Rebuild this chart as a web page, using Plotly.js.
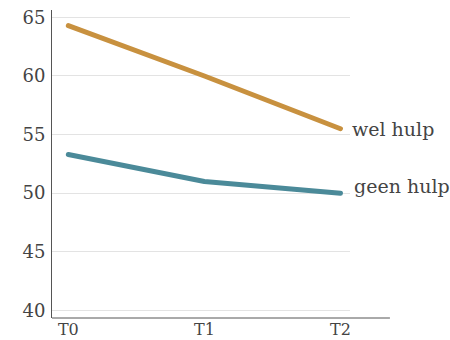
<!DOCTYPE html>
<html>
<head>
<meta charset="utf-8">
<script src="https://cdn.plot.ly/plotly-3.0.1.min.js"></script>
<style>html,body{margin:0;padding:0;background:#fff;}#chart{width:450px;height:340px;}
.js-line{stroke-linecap:round;stroke-linejoin:round;}</style>
</head>
<body>
<div id="chart"></div>
<script>
const categories = ["T0", "T1", "T2"];
const welHulp = [64.3, 60.0, 55.5];
const geenHulp = [53.3, 51.0, 50.0];
const seriesNames = ["wel hulp", "geen hulp"];
const yTicks = [40, 45, 50, 55, 60, 65];

const font = "DejaVu Serif, Liberation Serif, serif";
const xIdx = categories.map((c, i) => i);

const traces = [
  {x: xIdx, y: welHulp, mode: "lines", line: {color: "#C8913F", width: 5}, name: seriesNames[0], hoverinfo: "skip"},
  {x: xIdx, y: geenHulp, mode: "lines", line: {color: "#4B8A99", width: 5}, name: seriesNames[1], hoverinfo: "skip"}
];

const layout = {
  width: 450, height: 340,
  margin: {l: 52, r: 100, t: 10, b: 22},
  showlegend: false,
  paper_bgcolor: "#fff", plot_bgcolor: "#fff",
  font: {family: font, color: "#444", size: 16},
  xaxis: {
    range: [-0.12, 2.07], tickvals: xIdx, ticktext: categories,
    showgrid: false, zeroline: false, showline: false, ticks: "",
    ticklabelstandoff: 0,
    tickfont: {family: font, size: 16, color: "#444"}, fixedrange: true
  },
  yaxis: {
    range: [39.35, 65.63], tickvals: yTicks,
    showgrid: true, gridcolor: "#e3e3e3", gridwidth: 1,
    zeroline: false, showline: true, linecolor: "#555", linewidth: 1,
    ticks: "", ticklabelstandoff: 2,
    tickfont: {family: font, size: 18, color: "#444"}, fixedrange: true
  },
  shapes: [
    {type: "line", xref: "paper", yref: "paper", x0: 0, x1: 1.134, y0: 0, y1: 0,
     line: {color: "#555", width: 1}, layer: "above"}
  ],
  annotations: [
    {x: 2, y: welHulp[2], xref: "x", yref: "y", text: seriesNames[0], showarrow: false,
     xanchor: "left", yanchor: "middle", xshift: 10, yshift: 0,
     font: {family: font, size: 19, color: "#444"}},
    {x: 2, y: geenHulp[2], xref: "x", yref: "y", text: seriesNames[1], showarrow: false,
     xanchor: "left", yanchor: "middle", xshift: 12, yshift: 7,
     font: {family: font, size: 19, color: "#444"}}
  ]
};

Plotly.newPlot("chart", traces, layout, {displayModeBar: false, staticPlot: true});
</script>
</body>
</html>
